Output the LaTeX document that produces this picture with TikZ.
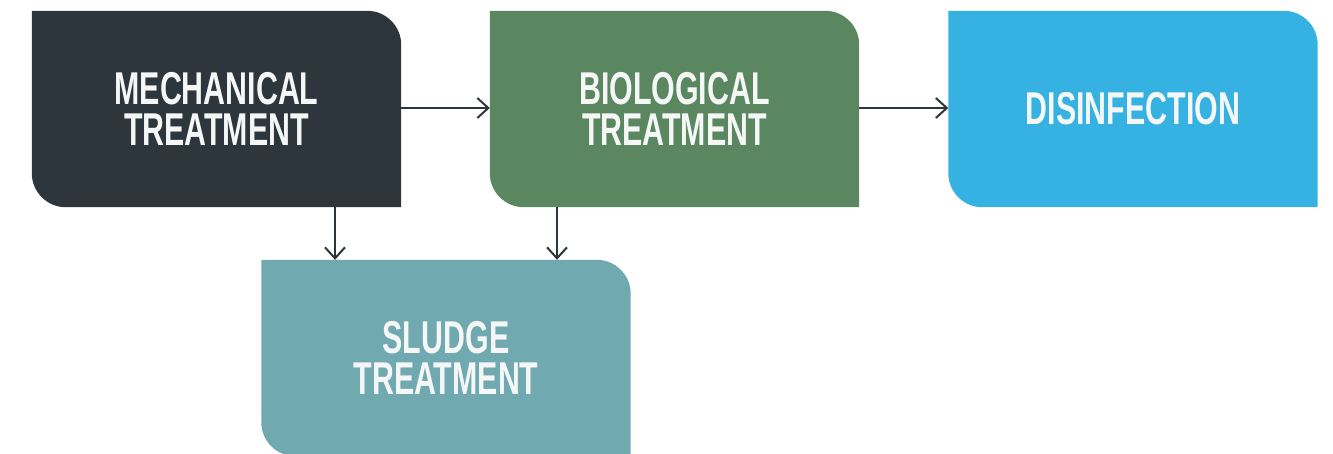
\documentclass[tikz,border=0pt]{standalone}
\usepackage{fontspec}
\newfontfamily\boxfont[FakeStretch=0.66]{Liberation Sans}
\usetikzlibrary{arrows.meta,backgrounds}
\definecolor{cmech}{HTML}{2C363C}
\definecolor{cbio}{HTML}{5A8760}
\definecolor{cdis}{HTML}{35B1E2}
\definecolor{csl}{HTML}{70A9B0}
\definecolor{carr}{HTML}{2D363B}
\definecolor{ctxt}{HTML}{F5F7F7}
\newcommand\rr{34pt}
\newcommand\blkshape[2]{\fill[#2] (#1.north west) -- ([xshift=-\rr]#1.north east) arc[start angle=90,end angle=0,radius=\rr] -- (#1.south east) -- ([xshift=\rr]#1.south west) arc[start angle=270,end angle=180,radius=\rr] -- cycle;}
\tikzset{
  blk/.style={minimum width=369pt,minimum height=196pt,inner sep=0pt,align=center,text=ctxt,
    font=\boxfont\bfseries\fontsize{46pt}{41pt}\selectfont},
  arr/.style={draw=carr,line width=2pt,-{Straight Barb[length=11pt,width=20pt,line width=2pt]}}
}
\begin{document}
\begin{tikzpicture}[x=1pt,y=1pt]
\useasboundingbox (0,0) rectangle (1333,-453);
\clip (0,0) rectangle (1333,-453);
\node[blk] (mech) at (216.5,-109) {MECHANICAL\\TREATMENT};
\node[blk] (bio) at (674.5,-109) {BIOLOGICAL\\TREATMENT};
\node[blk] (dis) at (1133,-109) {DISINFECTION};
\node[blk] (sl) at (446,-358) {SLUDGE\\TREATMENT};
\begin{scope}[on background layer]
\blkshape{mech}{cmech}
\blkshape{bio}{cbio}
\blkshape{dis}{cdis}
\blkshape{sl}{csl}
\end{scope}
\draw[arr] ([yshift=1pt]mech.east) -- ([yshift=1pt]bio.west);
\draw[arr] ([yshift=1pt]bio.east) -- ([yshift=1pt]dis.west);
\draw[arr] ([xshift=118.5pt]mech.south) -- ([xshift=118.5pt]mech.south |- sl.north);
\draw[arr] ([xshift=-117.5pt]bio.south) -- ([xshift=-117.5pt]bio.south |- sl.north);
\end{tikzpicture}
\end{document}
